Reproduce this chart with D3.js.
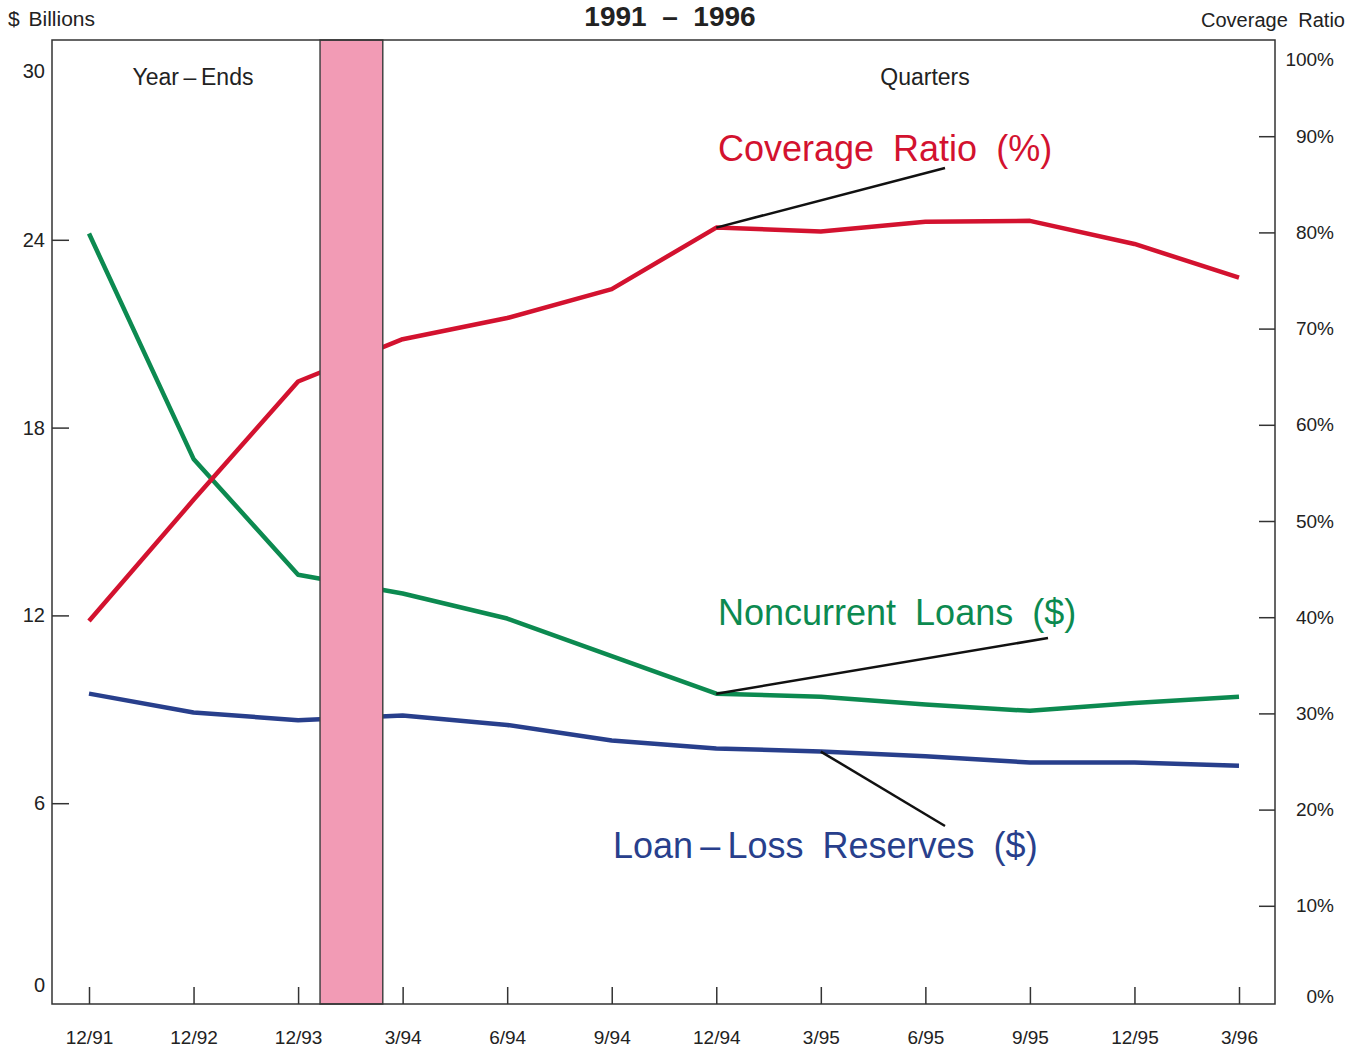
<!DOCTYPE html>
<html>
<head>
<meta charset="utf-8">
<script src="https://cdn.jsdelivr.net/npm/d3@7"></script>
<style>
  body { margin: 0; background: #fff; }
  svg { display: block; font-family: 'Liberation Sans', Arial, sans-serif; }
</style>
</head>
<body>
<div id="chart"></div>
<script>
const periods = ['12/91', '12/92', '12/93', '3/94', '6/94', '9/94', '12/94', '3/95', '6/95', '9/95', '12/95', '3/96'];
const noncurrentLoans = [24.2, 17.0, 13.3, 12.7, 11.9, 10.7, 9.5, 9.4, 9.15, 8.95, 9.2, 9.4];
const lossReserves = [9.5, 8.9, 8.65, 8.8, 8.5, 8.0, 7.75, 7.65, 7.5, 7.3, 7.3, 7.2];
const coverageRatio = [39.6, 52.2, 64.5, 68.9, 71.1, 74.1, 80.5, 80.1, 81.1, 81.2, 78.8, 75.3];
const billionTicks = [0, 6, 12, 18, 24, 30];
const ratioTicks = [0, 10, 20, 30, 40, 50, 60, 70, 80, 90, 100];

const W = 1361, H = 1051;
const frame = { left: 52, right: 1275, top: 40, bottom: 1004 };

const colors = { ratio: '#d3122f', loans: '#0c8a50', reserves: '#283f8c', band: '#f29bb5' };

const svg = d3.select('#chart').append('svg')
  .attr('width', W)
  .attr('height', H);

const x = d3.scalePoint()
  .domain(periods)
  .range([89, 1239]);

// left scale ($ billions) and right scale (coverage %)
const yL = d3.scaleLinear().domain([0, 30]).range([991, 52]);
const yR = d3.scaleLinear().domain([0, 100]).range([1002, 40]);

// lines
const lineL = d3.line().x((d, i) => x(periods[i])).y((d) => yL(d));
const lineR = d3.line().x((d, i) => x(periods[i])).y((d) => yR(d));

const lines = svg.append('g').attr('fill', 'none').attr('stroke-width', 4.5).attr('stroke-linejoin', 'round');
lines.append('path').attr('d', lineL(lossReserves)).attr('stroke', colors.reserves);
lines.append('path').attr('d', lineL(noncurrentLoans)).attr('stroke', colors.loans);
lines.append('path').attr('d', lineR(coverageRatio)).attr('stroke', colors.ratio);

// pink band between year-ends and quarters
const step = x.step();
const bandX0 = x('12/93') + step * 0.21;
const bandX1 = x('3/94') - step * 0.19;
svg.append('rect')
  .attr('x', bandX0)
  .attr('y', frame.top)
  .attr('width', bandX1 - bandX0)
  .attr('height', frame.bottom - frame.top)
  .attr('fill', colors.band)
  .attr('stroke', '#444')
  .attr('stroke-width', 1.5);

// frame
svg.append('rect')
  .attr('x', frame.left)
  .attr('y', frame.top)
  .attr('width', frame.right - frame.left)
  .attr('height', frame.bottom - frame.top)
  .attr('fill', 'none')
  .attr('stroke', '#333')
  .attr('stroke-width', 1.5);

// left axis
const leftAxis = svg.append('g')
  .attr('transform', `translate(${frame.left},0)`)
  .call(d3.axisLeft(yL).tickValues(billionTicks).tickSize(-17).tickPadding(7))
  .style('font-family', "'Liberation Sans', Arial, sans-serif")
  .style('font-size', '20px');
leftAxis.select('.domain').remove();
leftAxis.selectAll('.tick line').attr('stroke', '#333').attr('stroke-width', 1.5)
  .filter((d) => d === 0 || d === 30).remove();
leftAxis.selectAll('.tick text').attr('fill', '#222')
  .attr('dy', (d) => (d === 30 ? '1.28em' : d === 0 ? '0.0em' : '0.32em'));

// right axis
const rightAxis = svg.append('g')
  .attr('transform', `translate(${frame.right},0)`)
  .call(d3.axisRight(yR).tickValues(ratioTicks).tickSize(-16).tickFormat((d) => d + '%'))
  .style('font-family', "'Liberation Sans', Arial, sans-serif")
  .style('font-size', '19px');
rightAxis.select('.domain').remove();
rightAxis.selectAll('.tick line').attr('stroke', '#333').attr('stroke-width', 1.5)
  .filter((d) => d === 0 || d === 100).remove();
rightAxis.selectAll('.tick text')
  .attr('fill', '#222')
  .attr('text-anchor', 'end')
  .attr('x', 59)
  .attr('dy', (d) => (d === 100 ? '1.35em' : d === 0 ? '0.0em' : '0.32em'));

// bottom axis
const bottomAxis = svg.append('g')
  .attr('transform', `translate(0,${frame.bottom})`)
  .call(d3.axisBottom(x).tickSize(-17).tickPadding(27))
  .style('font-family', "'Liberation Sans', Arial, sans-serif")
  .style('font-size', '19px');
bottomAxis.select('.domain').remove();
bottomAxis.selectAll('.tick line').attr('stroke', '#333').attr('stroke-width', 1.5);
bottomAxis.selectAll('.tick text').attr('fill', '#222');

// header texts
svg.append('text').attr('x', 8).attr('y', 26).attr('font-size', 21).attr('fill', '#222')
  .style('word-spacing', '3px')
  .text('$ Billions');
svg.append('text').attr('x', 670).attr('y', 26).attr('text-anchor', 'middle')
  .attr('font-size', 28).attr('font-weight', 'bold').attr('fill', '#222')
  .style('white-space', 'pre')
  .text('1991  –  1996');
svg.append('text').attr('x', 1345).attr('y', 27).attr('text-anchor', 'end')
  .attr('font-size', 20).attr('fill', '#222')
  .style('word-spacing', '5px')
  .text('Coverage Ratio');
svg.append('text').attr('x', 193).attr('y', 85).attr('text-anchor', 'middle')
  .attr('font-size', 23).attr('fill', '#222')
  .text('Year\u2009–\u2009Ends');
svg.append('text').attr('x', 925).attr('y', 85).attr('text-anchor', 'middle')
  .attr('font-size', 23).attr('fill', '#222')
  .text('Quarters');

// series labels with leader lines
const labels = [
  { text: 'Coverage Ratio (%)', color: colors.ratio, x: 718, y: 161, from: [x('12/94'), yR(coverageRatio[6])], to: [945, 168] },
  { text: 'Noncurrent Loans ($)', color: colors.loans, x: 718, y: 625, from: [x('12/94'), yL(noncurrentLoans[6])], to: [1048, 638] },
  { text: 'Loan\u2009–\u2009Loss Reserves ($)', color: colors.reserves, x: 613, y: 858, from: [x('3/95'), yL(lossReserves[7])], to: [945, 826] },
];

labels.forEach((l) => {
  svg.append('line')
    .attr('x1', l.from[0]).attr('y1', l.from[1])
    .attr('x2', l.to[0]).attr('y2', l.to[1])
    .attr('stroke', '#111')
    .attr('stroke-width', 2.5);
  svg.append('text')
    .attr('x', l.x).attr('y', l.y)
    .attr('font-size', 36)
    .attr('fill', l.color)
    .style('word-spacing', '9px')
    .text(l.text);
});
</script>
</body>
</html>
